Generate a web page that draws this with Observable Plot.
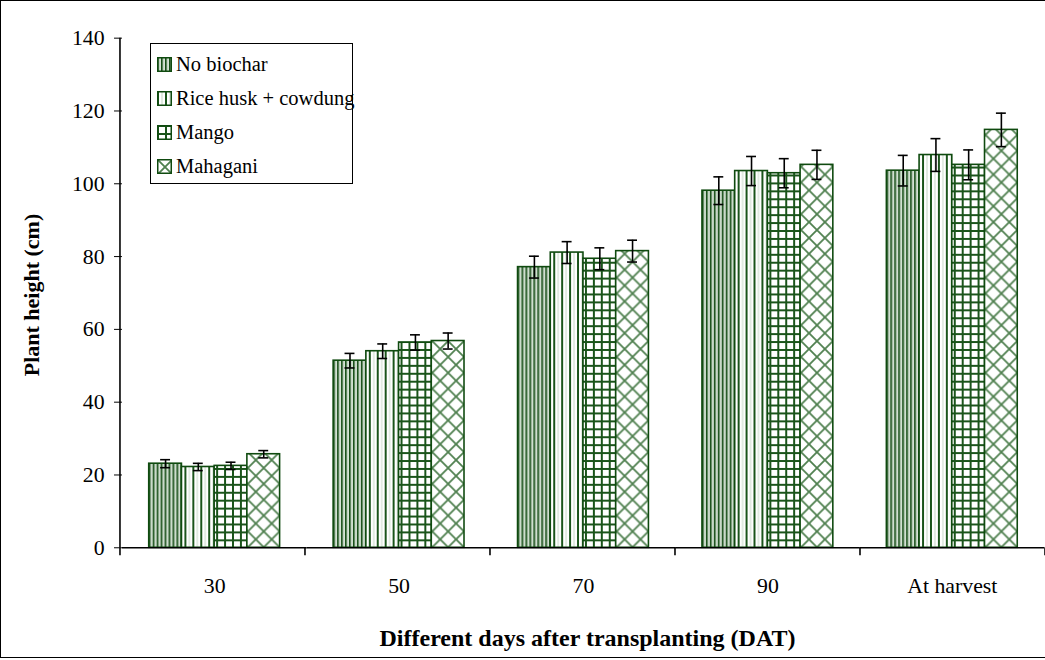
<!DOCTYPE html>
<html>
<head>
<meta charset="utf-8">
<script src="https://cdn.jsdelivr.net/npm/d3@7"></script>
<script src="https://cdn.jsdelivr.net/npm/@observablehq/plot@0.6"></script>
<style>
  html, body { margin: 0; padding: 0; background: #fff; overflow: hidden; }
  #wrap { position: relative; width: 1045px; height: 660px; overflow: hidden; font-family: "Liberation Serif", "Times New Roman", serif; color: #000; }
  #chart { position: absolute; left: 0; top: 0; }
  #border { position: absolute; left: 0; top: 0; width: 1060px; height: 658px; border: 1.5px solid #000; box-sizing: border-box; pointer-events: none; }
  #legend { position: absolute; left: 150px; top: 43px; width: 203px; height: 141px; border: 1.5px solid #000; box-sizing: border-box; background: #fff; }
  .row { position: absolute; left: 6px; height: 30px; display: flex; align-items: center; font-size: 20.5px; white-space: nowrap; }
  .row svg { margin-right: 4px; }
  .xtitle { position: absolute; left: 0; width: 1175px; text-align: center; top: 625px; font-weight: bold; font-size: 24px; }
  .ytitle { position: absolute; left: 32px; top: 295px; transform: translate(-50%, -50%) rotate(-90deg); font-weight: bold; font-size: 22px; white-space: nowrap; }
</style>
</head>
<body>
<svg width="0" height="0" style="position:absolute">
  <defs>
    <pattern id="pNo" patternUnits="userSpaceOnUse" width="4" height="10">
      <rect width="4" height="10" fill="#ffffff"/>
      <rect x="0" width="1.7" height="10" fill="#164e16"/>
      <rect x="2.4" width="1" height="10" fill="#9dbb9d"/>
    </pattern>
    <pattern id="pRice" patternUnits="userSpaceOnUse" width="8" height="10">
      <rect width="8" height="10" fill="#ffffff"/>
      <rect x="0" width="2" height="10" fill="#1a541a"/>
      <rect x="4.5" width="1" height="10" fill="#c3d5c3"/>
    </pattern>
    <pattern id="pMango" patternUnits="userSpaceOnUse" width="8" height="8">
      <rect width="8" height="8" fill="#ffffff"/>
      <rect x="0" width="2" height="8" fill="#1a541a"/>
      <rect y="0" width="8" height="2" fill="#1a541a"/>
    </pattern>
    <pattern id="pMaha" patternUnits="userSpaceOnUse" width="16" height="16">
      <rect width="16" height="16" fill="#ffffff"/>
      <path d="M-2,-2 L18,18 M18,-2 L-2,18" stroke="#4f804f" stroke-width="1.8"/>
    </pattern>
  </defs>
</svg>
<div id="wrap">
  <div id="chart"></div>
  <div id="legend"></div>
  <div class="ytitle">Plant height (cm)</div>
  <div class="xtitle">Different days after transplanting (DAT)</div>
  <div id="border"></div>
</div>
<script>
const categories = ["30", "50", "70", "90", "At harvest"];
const series = ["No biochar", "Rice husk + cowdung", "Mango", "Mahagani"];
const patterns = ["url(#pNo)", "url(#pRice)", "url(#pMango)", "url(#pMaha)"];

const noBiochar = [23.1, 51.4, 77.1, 98.1, 103.6];
const riceHusk  = [22.2, 54.0, 81.1, 103.5, 107.9];
const mango     = [22.5, 56.4, 79.4, 102.9, 105.2];
const mahagani  = [25.7, 56.8, 81.5, 105.2, 114.8];

const errNoBiochar = [1.1, 2.0, 3.0, 3.8, 4.2];
const errRiceHusk  = [1.0, 2.0, 3.0, 4.0, 4.5];
const errMango     = [1.0, 2.1, 3.0, 4.0, 4.1];
const errMahagani  = [1.0, 2.2, 3.0, 4.0, 4.6];

const yTicks = [0, 20, 40, 60, 80, 100, 120, 140];

const values = [noBiochar, riceHusk, mango, mahagani];
const errors = [errNoBiochar, errRiceHusk, errMango, errMahagani];
const rows = [];
categories.forEach((c, i) => series.forEach((s, j) => rows.push({cat: c, ser: s, v: values[j][i], e: errors[j][i]})));

const barStroke = "#0f4a0f";

const plot = Plot.plot({
  width: 1054,
  height: 660,
  marginLeft: 121,
  marginRight: 0,
  marginTop: 38,
  marginBottom: 108,
  style: {fontFamily: "'Liberation Serif', 'Times New Roman', serif", fontSize: "22px", color: "#000", background: "transparent", overflow: "visible"},
  fx: {domain: categories, padding: 0, label: null, tickSize: 0, tickPadding: 30, axis: "bottom"},
  x: {domain: series, paddingInner: 0, paddingOuter: 0.74, axis: null},
  y: {domain: [0, 140], ticks: yTicks, tickSize: 8, tickPadding: 10, label: null},
  color: {domain: series, range: patterns},
  marks: [
    Plot.barY(rows, {fx: "cat", x: "ser", y: "v", fill: "ser", stroke: barStroke, strokeWidth: 1.6}),
    Plot.ruleX(rows, {fx: "cat", x: "ser", y1: d => d.v - d.e, y2: d => d.v + d.e, stroke: "#000", strokeWidth: 1.6}),
    Plot.tickY(rows, {fx: "cat", x: "ser", y: d => d.v + d.e, stroke: "#000", strokeWidth: 1.6, insetLeft: 11.5, insetRight: 11.5}),
    Plot.tickY(rows, {fx: "cat", x: "ser", y: d => d.v - d.e, stroke: "#000", strokeWidth: 1.6, insetLeft: 11.5, insetRight: 11.5}),
    Plot.ruleY([0], {stroke: "#000", strokeWidth: 1.6})
  ]
});
document.getElementById("chart").appendChild(plot);

// y-axis line and category boundary ticks, from Plot's own scales
const fxS = plot.scale("fx");
const yS = plot.scale("y");
const band = d3.scaleBand().domain(fxS.domain).range(fxS.range)
  .paddingInner(fxS.paddingInner ?? fxS.padding ?? 0).paddingOuter(fxS.paddingOuter ?? fxS.padding ?? 0);
const svg = d3.select(plot.tagName.toLowerCase() === "svg" ? plot : plot.querySelector("svg"));
const g = svg.append("g").attr("stroke", "#000").attr("stroke-width", 1.6);
const x0 = band.range()[0];
g.append("line").attr("x1", x0).attr("x2", x0).attr("y1", yS.apply(0)).attr("y2", yS.apply(140));
const bounds = categories.map(c => band(c)).concat([band(categories[categories.length - 1]) + band.bandwidth()]);
bounds.forEach(b => g.append("line").attr("x1", b).attr("x2", b).attr("y1", yS.apply(0)).attr("y2", yS.apply(0) + 8));

// legend
const legend = document.getElementById("legend");
const rowTops = [5, 39, 73, 107];
series.forEach((s, i) => {
  const r = document.createElement("div");
  r.className = "row";
  r.style.top = rowTops[i] + "px";
  r.innerHTML = `<svg width="15" height="15"><rect x="0.75" y="0.75" width="13.5" height="13.5" fill="${patterns[i]}" stroke="${barStroke}" stroke-width="1.5"/></svg><span>${s}</span>`;
  legend.appendChild(r);
});
</script>
</body>
</html>
